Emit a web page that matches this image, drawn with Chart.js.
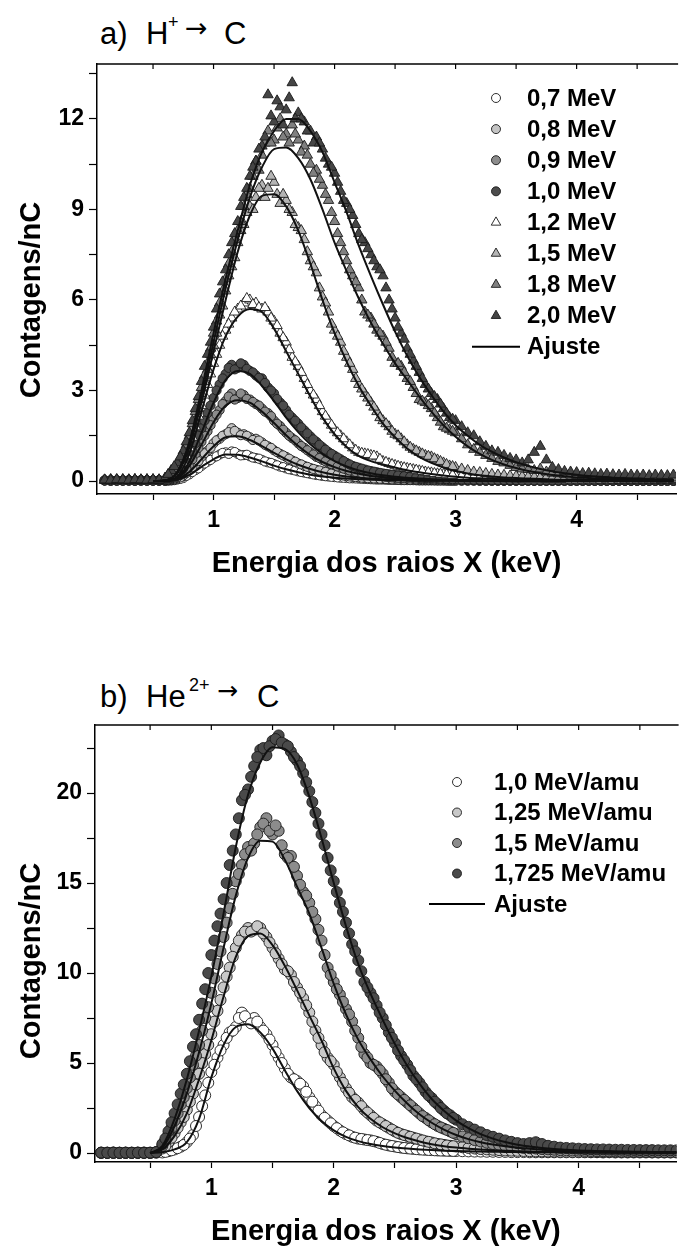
<!DOCTYPE html>
<html>
<head>
<meta charset="utf-8">
<script src="https://cdn.jsdelivr.net/npm/chart.js@4/dist/chart.umd.min.js"></script>
<style>
  body { margin: 0; background: #fff; }
  #page { position: relative; width: 683px; height: 1249px; overflow: hidden; }
  canvas { position: absolute; left: 0; }
  .t { position: absolute; font-family: "Liberation Sans", Arial, sans-serif; color: #000; white-space: nowrap; }
  .big { font-size: 31px; line-height: 31px; }
  .sup { font-size: 18px; line-height: 18px; }
  .arr { font-family: "DejaVu Sans", sans-serif; font-size: 27px; line-height: 27px; }
</style>
</head>
<body>
<div id="page">
  <!-- titulo a) -->
  <span class="t big" style="left:100px; top:18px">a)</span>
  <span class="t big" style="left:146px; top:18px">H</span>
  <span class="t sup" style="left:168px; top:13px">+</span>
  <span class="t arr" style="left:185px; top:14px">→</span>
  <span class="t big" style="left:224px; top:18px">C</span>
  <!-- titulo b) -->
  <span class="t big" style="left:100px; top:681px">b)</span>
  <span class="t big" style="left:146px; top:681px">He</span>
  <span class="t sup" style="left:189px; top:676px">2+</span>
  <span class="t arr" style="left:217px; top:678px; font-size:25px; line-height:25px">→</span>
  <span class="t big" style="left:257px; top:681px">C</span>

  <canvas id="chartH" width="683" height="620" style="top:0"></canvas>
  <canvas id="chartHe" width="683" height="629" style="top:620px"></canvas>
</div>
<script>
// energia (keV) dos pontos medidos
const energy = [
  0.10,0.15,0.20,0.25,0.30,0.35,0.40,0.45,0.50,0.55,
  0.60,0.65,0.70,0.75,0.80,0.85,0.90,0.95,1.00,1.05,
  1.10,1.15,1.20,1.25,1.30,1.35,1.40,1.45,1.50,1.55,
  1.60,1.65,1.70,1.75,1.80,1.85,1.90,1.95,2.00,2.05,
  2.10,2.15,2.20,2.25,2.30,2.35,2.40,2.45,2.50,2.55,
  2.60,2.65,2.70,2.75,2.80,2.85,2.90,2.95,3.00,3.05,
  3.10,3.15,3.20,3.25,3.30,3.35,3.40,3.45,3.50,3.55,
  3.60,3.65,3.70,3.75,3.80,3.85,3.90,3.95,4.00,4.05,
  4.10,4.15,4.20,4.25,4.30,4.35,4.40,4.45,4.50,4.55,
  4.60,4.65,4.70,4.75,4.80
];
// canais intermediarios na regiao do pico
const energyMid = [
  0.625,0.675,0.725,0.775,0.825,0.875,0.925,0.975,1.025,1.075,
  1.125,1.175,1.225,1.275,1.325,1.375,1.425,1.475,1.525,1.575,
  1.625,1.675,1.725,1.775,1.825,1.875,1.925,1.975,2.025,2.075,
  2.125,2.175,2.225,2.275,2.325,2.375,2.425,2.475,2.525,2.575,
  2.625,2.675,2.725,2.775,2.825,2.875,2.925,2.975
];
// energia das curvas de ajuste
const fitEnergy = [
  0.5,0.6,0.7,0.8,0.9,1.0,1.1,1.2,1.3,1.4,
  1.5,1.6,1.7,1.8,1.9,2.0,2.1,2.2,2.3,2.4,
  2.5,2.6,2.7,2.8,2.9,3.0,3.1,3.2,3.3,3.4,
  3.5,3.6,3.7,3.8,3.9,4.0,4.1,4.2,4.3,4.4,
  4.5,4.6,4.7,4.8
];

// ---- a) H+ -> C ----
const hLabels = ['0,7 MeV', '0,8 MeV', '0,9 MeV', '1,0 MeV', '1,2 MeV', '1,5 MeV', '1,8 MeV', '2,0 MeV'];

const h07 = [
  0.02,0.01,0.02,0.01,0.02,0.01,0.02,0.01,0.02,0.01,
  0.01,0.02,0.05,0.1,0.22,0.36,0.5,0.64,0.78,0.88,
  0.95,0.98,0.9,0.86,0.82,0.76,0.7,0.62,0.56,0.48,
  0.42,0.37,0.32,0.28,0.24,0.2,0.17,0.15,0.13,0.11,
  0.1,0.09,0.08,0.07,0.06,0.05,0.05,0.04,0.04,0.03,
  0.03,0.03,0.02,0.02,0.02,0.02,0.02,0.01,0.01,0.01,
  0.01,0.01,0.01,0.01,0.01,0.01,0.01,0.01,0.01,0.01,
  0.01,0.01,0.01,0.01,0.01,0.01,0.01,0.01,0.01,0.01,
  0.01,0.01,0.01,0.01,0.01,0.01,0.01,0.01,0.01,0.01,
  0.01,0.01,0.01,0.01,0.01
];
const h07Mid = [
  0.02,0.03,0.07,0.17,0.3,0.42,0.58,0.7,0.82,0.93,
  0.9,0.96,0.85,0.87,0.78,0.74,0.65,0.6,0.52,0.46,
  0.39,0.35,0.3,0.26,0.22,0.19,0.16,0.14,0.12,0.11,
  0.09,0.085,0.075,0.065,0.055,0.05,0.045,0.04,0.035,0.03,
  0.03,0.025,0.02,0.02,0.02,0.02,0.015,0.01
];
const h08 = [
  0.02,0.01,0.02,0.02,0.01,0.02,0.01,0.02,0.02,0.01,
  0.01,0.03,0.08,0.18,0.35,0.55,0.8,1.0,1.25,1.4,
  1.55,1.75,1.6,1.55,1.45,1.4,1.28,1.15,1.02,0.9,
  0.8,0.68,0.58,0.5,0.43,0.37,0.32,0.27,0.23,0.19,
  0.16,0.14,0.12,0.1,0.09,0.08,0.07,0.06,0.05,0.05,
  0.04,0.04,0.03,0.03,0.03,0.02,0.02,0.02,0.02,0.02,
  0.02,0.02,0.01,0.01,0.01,0.01,0.01,0.01,0.01,0.01,
  0.01,0.01,0.01,0.01,0.01,0.01,0.01,0.01,0.01,0.01,
  0.01,0.01,0.01,0.01,0.01,0.01,0.01,0.01,0.01,0.01,
  0.01,0.01,0.01,0.01,0.01
];
const h08Mid = [
  0.02,0.05,0.12,0.26,0.46,0.66,0.92,1.1,1.35,1.5,
  1.62,1.66,1.52,1.5,1.36,1.34,1.2,1.1,0.96,0.85,
  0.74,0.64,0.55,0.47,0.4,0.35,0.3,0.25,0.21,0.18,
  0.15,0.13,0.11,0.095,0.085,0.075,0.065,0.055,0.05,0.045,
  0.04,0.035,0.03,0.03,0.025,0.02,0.02,0.02
];
const h09 = [
  0.02,0.02,0.01,0.02,0.02,0.01,0.02,0.02,0.01,0.02,
  0.02,0.05,0.12,0.3,0.55,0.9,1.3,1.65,2.05,2.35,
  2.65,2.9,2.75,2.85,2.7,2.55,2.4,2.25,2.0,1.82,
  1.6,1.42,1.25,1.1,0.95,0.8,0.7,0.6,0.52,0.44,
  0.38,0.32,0.28,0.24,0.2,0.18,0.15,0.13,0.11,0.1,
  0.09,0.08,0.07,0.06,0.05,0.05,0.04,0.04,0.04,0.03,
  0.03,0.03,0.03,0.02,0.02,0.02,0.02,0.02,0.02,0.02,
  0.02,0.02,0.02,0.02,0.02,0.02,0.02,0.02,0.02,0.02,
  0.02,0.01,0.02,0.01,0.01,0.02,0.01,0.01,0.01,0.01,
  0.01,0.01,0.01,0.01,0.01
];
const h09Mid = [
  0.03,0.08,0.2,0.42,0.72,1.1,1.5,1.85,2.2,2.55,
  2.8,2.7,2.9,2.72,2.62,2.5,2.3,2.15,1.9,1.7,
  1.5,1.35,1.16,1.02,0.88,0.76,0.65,0.56,0.48,0.41,
  0.35,0.3,0.26,0.22,0.19,0.165,0.14,0.12,0.105,0.095,
  0.085,0.075,0.065,0.055,0.05,0.045,0.04,0.035
];
const h10 = [
  0.02,0.03,0.02,0.02,0.03,0.02,0.03,0.02,0.02,0.03,
  0.03,0.08,0.18,0.42,0.78,1.25,1.75,2.25,2.75,3.2,
  3.55,3.85,3.75,3.85,3.65,3.5,3.4,3.1,2.9,2.6,
  2.35,2.1,1.9,1.68,1.48,1.3,1.12,0.96,0.84,0.72,
  0.6,0.5,0.44,0.38,0.33,0.29,0.25,0.22,0.2,0.17,
  0.15,0.13,0.11,0.1,0.09,0.08,0.07,0.06,0.06,0.05,
  0.05,0.04,0.04,0.04,0.03,0.03,0.03,0.03,0.03,0.02,
  0.02,0.02,0.02,0.02,0.02,0.02,0.02,0.02,0.02,0.02,
  0.02,0.02,0.02,0.02,0.02,0.02,0.02,0.02,0.02,0.02,
  0.02,0.02,0.02,0.02,0.02
];
const h10Mid = [
  0.05,0.12,0.3,0.6,1.0,1.5,2.0,2.5,3.0,3.4,
  3.75,3.7,3.9,3.72,3.6,3.42,3.25,3.0,2.72,2.5,
  2.2,2.0,1.78,1.58,1.38,1.2,1.04,0.9,0.78,0.66,
  0.55,0.47,0.41,0.35,0.31,0.27,0.235,0.21,0.185,0.16,
  0.14,0.12,0.105,0.095,0.085,0.075,0.065,0.06
];
const h12 = [
  0.03,0.02,0.03,0.02,0.03,0.02,0.03,0.02,0.03,0.03,
  0.05,0.12,0.3,0.6,1.1,1.8,2.5,3.2,3.9,4.5,
  5.0,5.4,5.7,5.9,6.0,5.9,5.7,5.6,5.3,4.9,
  4.6,4.1,3.8,3.4,3.0,2.7,2.3,2.0,1.7,1.5,
  1.3,1.1,0.95,0.9,0.85,0.8,0.65,0.58,0.52,0.46,
  0.42,0.38,0.34,0.3,0.27,0.24,0.22,0.2,0.18,0.16,
  0.14,0.13,0.12,0.11,0.1,0.09,0.08,0.08,0.07,0.07,
  0.06,0.06,0.06,0.05,0.05,0.05,0.05,0.04,0.04,0.04,
  0.04,0.04,0.03,0.04,0.03,0.03,0.03,0.03,0.03,0.03,
  0.03,0.03,0.03,0.03,0.03
];
const h12Mid = [
  0.08,0.2,0.45,0.85,1.45,2.15,2.85,3.55,4.2,4.8,
  5.2,5.6,5.8,6.05,5.85,5.75,5.75,5.4,5.15,4.75,
  4.35,3.95,3.6,3.2,2.85,2.5,2.15,1.85,1.6,1.4,
  1.2,1.02,0.92,0.88,0.83,0.72,0.62,0.55,0.49,0.44,
  0.4,0.36,0.32,0.28,0.25,0.23,0.21,0.19
];
const h15 = [
  0.03,0.05,0.04,0.03,0.04,0.05,0.03,0.04,0.04,0.03,
  0.07,0.25,0.5,0.9,1.4,2.0,2.9,3.7,4.5,5.5,
  6.3,7.1,7.9,8.5,9.1,9.4,9.8,9.7,9.9,9.2,
  9.3,8.9,8.4,8.0,7.3,6.9,6.1,5.6,5.0,4.6,
  4.1,3.7,3.2,2.9,2.6,2.3,2.0,1.8,1.55,1.4,
  1.2,1.05,0.95,0.85,0.8,0.7,0.6,0.5,0.45,0.4,
  0.35,0.3,0.28,0.25,0.22,0.2,0.19,0.17,0.16,0.15,
  0.14,0.13,0.12,0.12,0.11,0.1,0.1,0.09,0.09,0.08,
  0.08,0.08,0.07,0.08,0.07,0.07,0.06,0.07,0.06,0.06,
  0.06,0.06,0.05,0.06,0.05
];
const h15Mid = [
  0.15,0.38,0.7,1.1,1.75,2.4,3.3,4.2,4.9,5.8,
  6.8,7.4,8.3,8.9,9.0,9.7,9.4,10.1,9.5,9.5,
  9.0,8.5,8.3,7.6,7.1,6.4,5.9,5.2,4.8,4.3,
  3.9,3.4,3.05,2.75,2.45,2.1,1.9,1.65,1.5,1.3,
  1.12,1.0,0.9,0.82,0.74,0.65,0.55,0.48
];
const h18 = [
  0.03,0.04,0.03,0.05,0.04,0.03,0.04,0.05,0.03,0.04,
  0.08,0.3,0.55,0.95,1.5,2.3,3.1,3.9,4.9,5.9,
  6.7,7.6,8.3,9.1,9.7,10.6,10.8,11.6,11.3,12.0,
  11.5,11.8,11.3,11.1,10.5,10.3,9.8,9.3,8.6,7.9,
  7.3,6.8,6.4,5.6,5.4,5.0,4.8,4.4,3.9,3.8,
  3.4,3.1,2.7,2.6,2.4,2.1,1.8,1.7,1.6,1.4,
  1.2,1.05,0.95,0.85,0.75,0.65,0.6,0.52,0.45,0.4,
  0.38,0.35,0.4,0.3,0.26,0.24,0.22,0.2,0.19,0.17,
  0.16,0.15,0.15,0.14,0.13,0.13,0.12,0.12,0.11,0.12,
  0.11,0.12,0.1,0.11,0.1
];
const h18Mid = [
  0.2,0.42,0.75,1.2,1.9,2.7,3.5,4.4,5.3,6.3,
  7.2,8.0,8.6,9.5,10.1,10.3,11.2,11.2,11.7,11.4,
  11.2,11.5,10.9,10.8,10.2,10.0,9.5,8.9,8.2,7.6,
  7.0,6.6,6.0,5.5,5.2,4.9,4.6,4.1,3.9,3.6,
  3.3,2.9,2.65,2.5,2.25,1.95,1.75,1.65
];
const h20 = [
  0.04,0.03,0.05,0.04,0.03,0.05,0.04,0.03,0.05,0.04,
  0.1,0.35,0.6,1.0,1.6,2.4,3.3,4.2,5.1,6.2,
  7.0,7.9,8.6,9.4,10.1,10.6,11.1,12.8,11.9,12.4,
  12.3,13.2,12.2,11.9,11.6,11.4,11.0,10.5,10.2,9.6,
  9.2,8.8,8.2,7.9,7.5,7.1,6.8,6.0,5.4,4.9,
  4.4,4.0,3.6,3.2,2.9,2.7,2.4,2.1,2.0,1.8,
  1.6,1.5,1.3,1.15,1.0,0.95,0.85,0.75,0.7,0.6,
  0.7,0.95,1.15,0.7,0.45,0.38,0.32,0.3,0.28,0.25,
  0.26,0.24,0.22,0.23,0.21,0.2,0.22,0.2,0.19,0.2,
  0.18,0.2,0.19,0.18,0.2
];
const h20Mid = [
  0.22,0.48,0.8,1.3,2.0,2.8,3.8,4.6,5.7,6.6,
  7.5,8.2,9.1,9.7,10.4,11.0,11.4,12.1,12.6,11.8,
  12.7,12.0,12.0,11.6,11.2,11.2,10.7,10.4,9.9,9.3,
  9.0,8.5,8.0,7.7,7.3,7.0,6.4,5.7,5.1,4.7,
  4.2,3.8,3.4,3.05,2.8,2.55,2.25,2.05
];

const h07Fit = [0,0.01,0.04,0.2,0.47,0.72,0.88,0.87,0.78,0.65, 0.51,0.39,0.29,0.21,0.15,0.11,0.08,0.06,0.045,0.03, 0.025,0.02,0.01,0.01,0.01,0.01,0.01,0.01,0.01,0.01, 0.01,0.01,0.01,0.01,0.01,0.01,0.01,0.01,0.01,0.01, 0.01,0.01,0.01,0.01];
const h08Fit = [0,0.01,0.06,0.3,0.72,1.15,1.45,1.48,1.36,1.16, 0.93,0.72,0.54,0.4,0.29,0.21,0.15,0.11,0.08,0.06, 0.045,0.03,0.025,0.02,0.02,0.01,0.01,0.01,0.01,0.01, 0.01,0.01,0.01,0.01,0.01,0.01,0.01,0.01,0.01,0.01, 0.01,0.01,0.01,0.01];
const h09Fit = [0,0.01,0.09,0.5,1.2,1.95,2.5,2.68,2.6,2.3, 1.92,1.52,1.16,0.86,0.63,0.46,0.33,0.24,0.17,0.13, 0.09,0.07,0.05,0.04,0.03,0.03,0.02,0.02,0.02,0.01, 0.01,0.01,0.01,0.01,0.01,0.01,0.01,0.01,0.01,0.01, 0.01,0.01,0.01,0.01];
const h10Fit = [0,0.01,0.12,0.65,1.6,2.6,3.35,3.65,3.55,3.15, 2.65,2.1,1.62,1.22,0.9,0.66,0.48,0.35,0.26,0.19, 0.14,0.11,0.08,0.06,0.05,0.04,0.03,0.03,0.02,0.02, 0.02,0.01,0.01,0.01,0.01,0.01,0.01,0.01,0.01,0.01, 0.01,0.01,0.01,0.01];
const h12Fit = [0,0.01,0.15,0.9,2.3,3.7,4.8,5.45,5.7,5.6, 5.05,4.3,3.55,2.8,2.1,1.55,1.13,0.83,0.66,0.55, 0.45,0.36,0.29,0.23,0.18,0.14,0.11,0.09,0.075,0.06, 0.05,0.04,0.035,0.03,0.025,0.02,0.02,0.02,0.01,0.01, 0.01,0.01,0.01,0.01];
const h15Fit = [0,0.02,0.25,1.1,2.6,4.3,6.0,7.6,8.8,9.45, 9.5,9.1,8.3,7.2,6.0,4.9,3.95,3.15,2.5,1.9, 1.45,1.08,0.8,0.6,0.45,0.33,0.25,0.19,0.15,0.12, 0.1,0.08,0.07,0.05,0.04,0.04,0.03,0.03,0.03,0.02, 0.02,0.02,0.02,0.02];
const h18Fit = [0,0.02,0.28,1.2,2.8,4.6,6.4,8.0,9.4,10.4, 11.0,11.05,10.7,10.0,9.0,7.9,6.95,6.05,5.25,4.55, 3.9,3.35,2.8,2.3,1.85,1.47,1.15,0.9,0.7,0.55, 0.43,0.33,0.26,0.2,0.16,0.12,0.1,0.08,0.07,0.05, 0.05,0.04,0.04,0.03];
const h20Fit = [0,0.02,0.3,1.3,3.0,4.9,6.7,8.3,9.8,10.9, 11.6,12.0,12.0,11.6,10.9,9.9,8.9,7.8,6.8,5.85, 4.95,4.15,3.45,2.85,2.3,1.85,1.5,1.2,0.97,0.78, 0.62,0.5,0.4,0.32,0.26,0.21,0.17,0.14,0.11,0.09, 0.08,0.06,0.05,0.04];

// ---- b) He2+ -> C ----
const heLabels = ['1,0 MeV/amu', '1,25 MeV/amu', '1,5 MeV/amu', '1,725 MeV/amu'];

const he100 = [
  0.01,0.01,0.02,0.01,0.01,0.01,0.02,0.01,0.01,0.02,
  0.03,0.1,0.2,0.35,0.6,1.0,2.0,3.2,4.5,5.3,
  6.0,6.7,7.0,7.8,7.4,7.5,7.0,6.6,6.0,5.3,
  4.7,4.2,4.0,3.7,3.1,2.6,2.1,1.8,1.5,1.25,
  1.05,0.9,0.8,0.75,0.7,0.62,0.5,0.42,0.36,0.3,
  0.26,0.23,0.2,0.18,0.16,0.14,0.13,0.12,0.11,0.1,
  0.09,0.08,0.08,0.07,0.07,0.06,0.06,0.05,0.05,0.05,
  0.04,0.04,0.04,0.04,0.04,0.04,0.04,0.04,0.04,0.04,
  0.04,0.04,0.03,0.04,0.03,0.03,0.03,0.03,0.03,0.03,
  0.03,0.03,0.03,0.03,0.03
];
const he100Mid = [
  0.06,0.15,0.27,0.45,0.8,1.5,2.6,3.9,4.9,5.7,
  6.4,6.8,7.5,7.6,7.2,7.3,6.8,6.3,5.6,5.0,
  4.4,4.1,3.85,3.4,2.85,2.35,1.95,1.65,1.38,1.15,
  0.98,0.85,0.78,0.72,0.66,0.56,0.46,0.39,0.33,0.28,
  0.245,0.215,0.19,0.17,0.15,0.135,0.125,0.115
];
const he125 = [
  0.01,0.02,0.01,0.01,0.02,0.01,0.01,0.02,0.01,0.03,
  0.25,0.6,1.1,1.7,2.4,3.3,4.4,5.5,6.6,7.9,
  9.2,10.3,11.4,12.1,12.5,12.4,12.5,12.0,11.4,10.8,
  10.2,9.9,9.2,8.6,7.8,6.8,6.0,5.3,4.9,4.2,
  3.6,3.1,2.8,2.4,2.1,1.8,1.6,1.4,1.2,1.05,
  0.95,0.85,0.75,0.65,0.58,0.5,0.45,0.4,0.36,0.32,
  0.28,0.25,0.22,0.2,0.18,0.16,0.14,0.13,0.12,0.11,
  0.1,0.09,0.09,0.08,0.08,0.07,0.07,0.06,0.06,0.06,
  0.05,0.05,0.05,0.05,0.05,0.05,0.05,0.05,0.05,0.05,
  0.04,0.04,0.04,0.04,0.04
];
const he125Mid = [
  0.4,0.85,1.4,2.0,2.85,3.8,5.0,6.0,7.3,8.5,
  9.8,10.9,11.8,12.3,12.3,12.6,12.2,11.7,11.1,10.5,
  10.1,9.5,8.9,8.2,7.3,6.4,5.6,5.1,4.5,3.9,
  3.35,2.95,2.6,2.25,1.95,1.7,1.5,1.3,1.12,1.0,
  0.9,0.8,0.7,0.62,0.54,0.48,0.42,0.38
];
const he150 = [
  0.02,0.01,0.02,0.02,0.01,0.02,0.01,0.02,0.01,0.05,
  0.4,1.0,1.8,2.7,3.6,4.9,6.0,7.5,8.9,10.5,
  12.0,13.6,15.1,16.0,17.0,17.2,18.1,18.6,17.7,17.9,
  16.6,16.5,15.4,14.5,13.9,13.0,11.8,10.3,9.5,8.8,
  8.0,7.3,6.4,5.5,5.0,4.8,4.4,3.9,3.4,3.1,
  2.8,2.5,2.2,1.95,1.7,1.5,1.35,1.2,1.05,0.92,
  0.82,0.72,0.64,0.57,0.5,0.45,0.4,0.36,0.32,0.29,
  0.27,0.25,0.22,0.2,0.18,0.16,0.15,0.14,0.13,0.12,
  0.11,0.1,0.1,0.09,0.09,0.08,0.08,0.08,0.07,0.07,
  0.07,0.06,0.06,0.06,0.06
];
const he150Mid = [
  0.7,1.4,2.2,3.1,4.2,5.4,6.8,8.1,9.7,11.2,
  12.8,14.4,15.5,16.6,16.8,17.7,18.3,17.9,18.2,17.1,
  16.4,15.9,14.9,14.3,13.4,12.4,11.0,9.9,9.1,8.4,
  7.7,6.8,5.9,5.3,4.9,4.6,4.1,3.6,3.25,2.95,
  2.65,2.35,2.05,1.82,1.6,1.42,1.28,1.12
];
const he1725 = [
  0.02,0.01,0.02,0.01,0.02,0.01,0.02,0.01,0.02,0.05,
  0.5,1.2,2.2,3.3,4.4,5.9,7.4,9.1,11.0,12.6,
  14.1,16.0,17.7,19.6,20.2,21.5,22.4,22.1,22.9,23.2,
  22.7,22.3,21.8,21.1,20.1,18.9,17.7,16.4,15.1,13.9,
  12.8,11.6,10.7,9.5,8.9,8.2,7.5,6.7,6.1,5.4,
  4.9,4.3,3.9,3.4,3.05,2.7,2.35,2.1,1.85,1.6,
  1.45,1.3,1.15,1.0,0.9,0.8,0.7,0.62,0.55,0.5,
  0.55,0.6,0.5,0.4,0.35,0.3,0.28,0.26,0.24,0.22,
  0.21,0.2,0.2,0.19,0.18,0.18,0.17,0.17,0.16,0.16,
  0.16,0.15,0.15,0.15,0.15
];
const he1725Mid = [
  0.8,1.7,2.7,3.8,5.1,6.6,8.3,10.0,11.8,13.3,
  15.0,16.8,18.6,19.9,20.9,22.0,22.5,22.6,23.0,22.8,
  22.6,22.0,21.5,20.6,19.5,18.3,17.1,15.7,14.5,13.4,
  12.2,11.2,10.1,9.2,8.6,7.8,7.1,6.4,5.7,5.15,
  4.6,4.1,3.65,3.2,2.85,2.5,2.2,1.95
];

const he100Fit = [0,0.04,0.2,0.6,1.9,4.2,6.0,7.0,7.15,6.7, 5.8,4.6,3.45,2.5,1.78,1.26,0.9,0.66,0.5,0.39, 0.31,0.25,0.2,0.16,0.13,0.11,0.095,0.08,0.07,0.06, 0.05,0.04,0.04,0.035,0.03,0.03,0.03,0.03,0.02,0.02, 0.02,0.02,0.02,0.02];
const he125Fit = [0,0.2,0.95,2.2,4.1,6.25,8.7,10.9,12.05,12.2, 11.55,10.4,9.05,7.65,6.25,4.7,3.45,2.55,1.9,1.43, 1.09,0.83,0.64,0.49,0.38,0.3,0.24,0.19,0.15,0.12, 0.1,0.08,0.07,0.06,0.05,0.04,0.04,0.03,0.03,0.03, 0.03,0.02,0.02,0.02];
const he150Fit = [0,0.3,1.5,3.3,5.6,8.3,11.4,14.3,16.4,17.35, 17.3,16.3,14.8,13.3,11.4,9.4,7.7,6.3,5.2,4.25, 3.45,2.75,2.15,1.68,1.3,1.0,0.77,0.6,0.47,0.37, 0.29,0.23,0.18,0.15,0.12,0.1,0.09,0.08,0.07,0.06, 0.05,0.05,0.04,0.04];
const he1725Fit = [0,0.4,1.9,4.1,6.8,9.8,13.3,17.0,19.9,21.7, 22.55,22.45,21.6,19.8,17.5,15.0,12.6,10.5,8.85,7.4, 6.05,4.85,3.85,3.0,2.35,1.8,1.38,1.05,0.8,0.61, 0.46,0.36,0.28,0.22,0.18,0.14,0.12,0.1,0.09,0.08, 0.07,0.06,0.06,0.05];

// aparencia dos marcadores
const hFills = ['#ffffff', '#c4c4c4', '#8c8c8c', '#4c4c4c', '#ffffff', '#b4b4b4', '#808080', '#454545'];
const hShapes = ['circle', 'circle', 'circle', 'circle', 'triangle', 'triangle', 'triangle', 'triangle'];
const heFills = ['#ffffff', '#c8c8c8', '#8c8c8c', '#4a4a4a'];

const FONT = '"Liberation Sans", Arial, Helvetica, sans-serif';
Chart.defaults.font.family = FONT;
Chart.defaults.color = '#000';

function pts(xs, ys) {
    return xs.map((x, i) => ({ x: x, y: ys[i] }));
}

function fitSet(ys) {
    return {
        data: pts(fitEnergy, ys),
        showLine: true,
        pointRadius: 0,
        borderColor: '#111',
        borderWidth: 2,
        cubicInterpolationMode: 'monotone',
        fill: false,
        order: 0
    };
}

function dataSet(main, mid, shape, fill, radius, order) {
    return {
        data: pts(energy, main).concat(pts(energyMid, mid)),
        showLine: false,
        pointStyle: shape,
        pointRadius: radius,
        pointBackgroundColor: fill,
        pointBorderColor: '#1a1a1a',
        pointBorderWidth: 0.9,
        order: order
    };
}

function drawMarker(ctx, shape, x, y, r, fill) {
    ctx.beginPath();
    if (shape === 'triangle') {
        ctx.moveTo(x, y - r);
        ctx.lineTo(x + r * 0.866, y + r * 0.5);
        ctx.lineTo(x - r * 0.866, y + r * 0.5);
        ctx.closePath();
    } else {
        ctx.arc(x, y, r, 0, Math.PI * 2);
    }
    ctx.fillStyle = fill;
    ctx.fill();
    ctx.strokeStyle = '#1a1a1a';
    ctx.lineWidth = 0.9;
    ctx.stroke();
}

// caixa superior com ticks para dentro + titulo do eixo y
const framePlugin = {
    id: 'frame',
    afterDraw(chart, args, opts) {
        const { ctx, chartArea: a } = chart;
        const x = chart.scales.x;
        ctx.save();
        ctx.strokeStyle = '#000';
        ctx.lineWidth = 1.5;
        ctx.beginPath();
        ctx.moveTo(a.left, a.top);
        ctx.lineTo(a.right + 2, a.top);
        ctx.stroke();
        ctx.lineWidth = 1.2;
        x.ticks.forEach(t => {
            const px = x.getPixelForValue(t.value);
            ctx.beginPath();
            ctx.moveTo(px, a.top);
            ctx.lineTo(px, a.top + 5);
            ctx.stroke();
        });
        // Contagens/nC (o Origin o coloca um pouco abaixo do centro)
        ctx.translate(opts.titleX, opts.titleY);
        ctx.rotate(-Math.PI / 2);
        ctx.font = 'bold 29px ' + FONT;
        ctx.fillStyle = '#000';
        ctx.textAlign = 'center';
        ctx.textBaseline = 'middle';
        ctx.fillText('Contagens/nC', 0, 0);
        ctx.restore();
    }
};

// legenda desenhada dentro do grafico
const legendPlugin = {
    id: 'serieLegend',
    afterDraw(chart, args, opts) {
        const ctx = chart.ctx;
        ctx.save();
        ctx.font = 'bold 24px ' + FONT;
        ctx.textBaseline = 'middle';
        opts.items.forEach((it, i) => {
            const y = opts.top + i * opts.step;
            if (it.line) {
                ctx.strokeStyle = '#000';
                ctx.lineWidth = 2;
                ctx.beginPath();
                ctx.moveTo(opts.lineFrom, y);
                ctx.lineTo(opts.lineTo, y);
                ctx.stroke();
            } else {
                drawMarker(ctx, it.shape, opts.markerX, y, it.shape === 'triangle' ? 5.5 : 4.5, it.fill);
            }
            ctx.fillStyle = '#000';
            ctx.fillText(it.label, opts.textX, y + 1);
        });
        ctx.restore();
    }
};

function isMultiple(v, step) {
    return Math.abs(v / step - Math.round(v / step)) < 1e-6;
}

function makeOptions(o) {
    return {
        responsive: false,
        animation: false,
        devicePixelRatio: 1,
        events: [],
        layout: { padding: { top: o.top, right: 0, left: 0, bottom: 0 } },
        plugins: {
            legend: { display: false },
            tooltip: { enabled: false },
            serieLegend: o.legend,
            frame: { titleX: 32, titleY: o.yTitleY }
        },
        scales: {
            x: {
                type: 'linear',
                min: o.xMin,
                max: o.xMax,
                afterFit: s => { s.height = o.xHeight; },
                border: { display: true, color: '#000', width: 1.5 },
                grid: { drawOnChartArea: false, drawTicks: true, tickLength: 6, tickColor: '#000', tickWidth: 1.2 },
                ticks: {
                    stepSize: 0.5,
                    includeBounds: false,
                    autoSkip: false,
                    maxRotation: 0,
                    padding: 7,
                    color: '#000',
                    font: { size: 23, weight: 'bold' },
                    callback: v => isMultiple(v, 1) ? String(Math.round(v)) : ''
                },
                title: {
                    display: true,
                    text: 'Energia dos raios X (keV)',
                    color: '#000',
                    font: { size: 29, weight: 'bold', lineHeight: 1 },
                    padding: { top: 0, bottom: o.xTitlePad }
                }
            },
            y: {
                type: 'linear',
                min: o.yMin,
                max: o.yMax,
                afterFit: s => { s.width = o.yWidth; },
                border: { display: true, color: '#000', width: 1.5 },
                grid: { drawOnChartArea: false, drawTicks: true, tickLength: 8, tickColor: '#000', tickWidth: 1.2 },
                ticks: {
                    stepSize: o.yStep / 2,
                    includeBounds: false,
                    autoSkip: false,
                    padding: 5,
                    color: '#000',
                    font: { size: 23, weight: 'bold' },
                    callback: v => isMultiple(v, o.yStep) ? String(Math.round(v)) : ''
                },
                title: { display: false }
            }
        }
    };
}

// grafico a)
const hData = [h07, h08, h09, h10, h12, h15, h18, h20];
const hMid = [h07Mid, h08Mid, h09Mid, h10Mid, h12Mid, h15Mid, h18Mid, h20Mid];
const hFits = [h07Fit, h08Fit, h09Fit, h10Fit, h12Fit, h15Fit, h18Fit, h20Fit];
const hDatasets = hFits.map(f => fitSet(f)).concat(
    hData.map((d, i) => dataSet(d, hMid[i], hShapes[i], hFills[i], hShapes[i] === 'triangle' ? 6 : 4.6, 8 - i))
);
const hItems = hLabels.map((l, i) => ({ label: l, shape: hShapes[i], fill: hFills[i] }));
hItems.push({ label: 'Ajuste', line: true });

new Chart(document.getElementById('chartH'), {
    type: 'scatter',
    data: { datasets: hDatasets },
    options: makeOptions({
        top: 64, xMin: 0.037, xMax: 4.822, xHeight: 126, xTitlePad: 42,
        yMin: -0.43, yMax: 13.82, yStep: 3, yWidth: 97, yTitleY: 300,
        legend: { items: hItems, top: 98, step: 31.1, markerX: 496, textX: 527, lineFrom: 472, lineTo: 520 }
    }),
    plugins: [framePlugin, legendPlugin]
});

// grafico b)
const heData = [he100, he125, he150, he1725];
const heMid = [he100Mid, he125Mid, he150Mid, he1725Mid];
const heFits = [he100Fit, he125Fit, he150Fit, he1725Fit];
const heDatasets = heFits.map(f => fitSet(f)).concat(
    heData.map((d, i) => dataSet(d, heMid[i], 'circle', heFills[i], 5.5, 4 - i))
);
const heItems = heLabels.map((l, i) => ({ label: l, shape: 'circle', fill: heFills[i] }));
heItems.push({ label: 'Ajuste', line: true });

new Chart(document.getElementById('chartHe'), {
    type: 'scatter',
    data: { datasets: heDatasets },
    options: makeOptions({
        top: 105, xMin: 0.05, xMax: 4.80, xHeight: 87, xTitlePad: 3,
        yMin: -0.5, yMax: 23.78, yStep: 5, yWidth: 95, yTitleY: 341,
        legend: { items: heItems, top: 162, step: 30.5, markerX: 457, textX: 494, lineFrom: 429, lineTo: 485 }
    }),
    plugins: [framePlugin, legendPlugin]
});
</script>
</body>
</html>
